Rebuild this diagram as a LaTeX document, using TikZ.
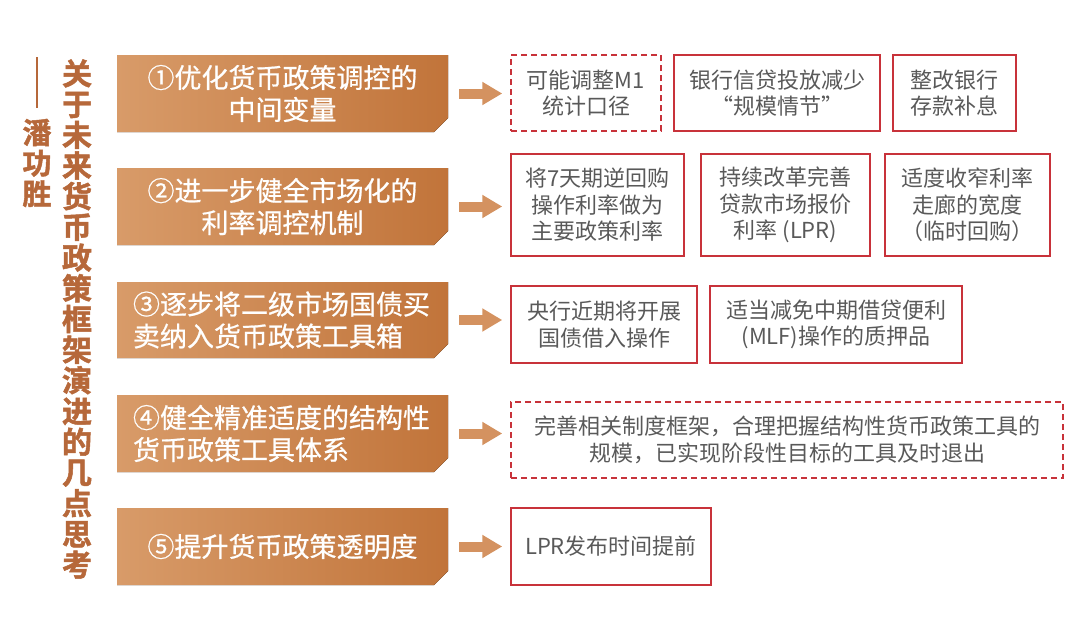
\documentclass[tikz,border=0pt]{standalone}
\usepackage{fontspec}
\setmainfont{Noto Sans CJK SC}
\newfontfamily\cjkmed[FakeBold=0.7]{Noto Sans CJK SC}
\newfontfamily\cjkheavy[FakeBold=1.6]{Noto Sans CJK SC Bold}
\usetikzlibrary{arrows.meta}
\definecolor{oL}{HTML}{D89B69}
\definecolor{oR}{HTML}{C1743A}
\definecolor{ttl}{HTML}{B6683A}
\definecolor{arr}{HTML}{D49260}
\definecolor{rd}{HTML}{C8323A}
\definecolor{gtx}{HTML}{595959}
\tikzset{
  otext/.style={text=white, font=\cjkmed\fontsize{27}{32}\selectfont, minimum width=331pt, minimum height=77pt, inner sep=0pt},
  rbox/.style={draw=rd, line width=1.5pt, text=gtx, font=\fontsize{22}{26.5}\selectfont, align=center, inner sep=0pt},
  dbox/.style={rbox, dash pattern=on 6pt off 4pt},
  bigarrow/.style={draw=arr, line width=10pt, -{Triangle[length=20pt,width=22pt]}}
}
\begin{document}
\begin{tikzpicture}[x=1pt,y=-1pt]
\useasboundingbox (0,0) rectangle (1080,640);
% title
\node[text=ttl, font=\cjkheavy\fontsize{30}{30.7}\selectfont, align=center, inner sep=0pt] (title) at (77,319)
  {关\\于\\未\\来\\货\\币\\政\\策\\框\\架\\演\\进\\的\\几\\点\\思\\考};
\node[text=ttl, font=\cjkheavy\fontsize{29}{30.5}\selectfont, align=center, inner sep=0pt] (author) at (37,163)
  {潘\\功\\胜};
\coordinate (lt) at (37,57);
\coordinate (lb) at (37,108);
\draw[ttl, line width=2pt] (lt) -- (lb);
% orange boxes
\foreach \t/\b in {55/132,168/245,282/358,395/472,508/585}{
  \fill[left color=oL, right color=oR] (117,\t) -- (448,\t) -- (448,\b-14) -- (434,\b) -- (117,\b) -- cycle;
}
\node[otext, align=center] (o1) at (282.5,93.5) {①优化货币政策调控的\\中间变量};
\node[otext, align=center] (o2) at (282.5,206.5) {②进一步健全市场化的\\利率调控机制};
\node[otext, align=left, text width=299pt] (o3) at (282.5,320) {③逐步将二级市场国债买\\卖纳入货币政策工具箱};
\node[otext, align=left, text width=299pt] (o4) at (282.5,433.5) {④健全精准适度的结构性\\货币政策工具体系};
\node[otext, align=center] (o5) at (282.5,546.5) {⑤提升货币政策透明度};
% right boxes
\node[dbox, minimum width=150pt, minimum height=76pt] (r11) at (586,93) {可能调整M1\\统计口径};
\node[rbox, minimum width=206pt, minimum height=76pt] (r12) at (777,93) {银行信贷投放减少\\“规模情节”};
\node[rbox, minimum width=123pt, minimum height=76pt] (r13) at (954.5,93) {整改银行\\存款补息};
\node[rbox, minimum width=173pt, minimum height=102pt] (r21) at (597.5,205) {将7天期逆回购\\操作利率做为\\主要政策利率};
\node[rbox, minimum width=169pt, minimum height=102pt] (r22) at (785.5,205) {持续改革完善\\贷款市场报价\\利率 (LPR)};
\node[rbox, minimum width=165pt, minimum height=102pt] (r23) at (967.5,205) {适度收窄利率\\走廊的宽度\\（临时回购）};
\node[rbox, minimum width=186pt, minimum height=77pt] (r31) at (604,324.5) {央行近期将开展\\国债借入操作};
\node[rbox, minimum width=252pt, minimum height=77pt] (r32) at (836,324.5) {适当减免中期借贷便利\\(MLF)操作的质押品};
\node[dbox, minimum width=552pt, minimum height=76pt] (r41) at (787,440) {完善相关制度框架，合理把握结构性货币政策工具的\\规模，已实现阶段性目标的工具及时退出};
\node[rbox, minimum width=200pt, minimum height=77pt] (r51) at (611,546.5) {LPR发布时间提前};
% arrows
\draw[bigarrow] ([xshift=11pt]o1.east) -- ([xshift=-8pt]o1.east -| r11.west);
\draw[bigarrow] ([xshift=11pt]o2.east) -- ([xshift=-8pt]o2.east -| r21.west);
\draw[bigarrow] ([xshift=11pt]o3.east) -- ([xshift=-8pt]o3.east -| r31.west);
\draw[bigarrow] ([xshift=11pt]o4.east) -- ([xshift=-8pt]o4.east -| r41.west);
\draw[bigarrow] ([xshift=11pt]o5.east) -- ([xshift=-8pt]o5.east -| r51.west);
\end{tikzpicture}
\end{document}
